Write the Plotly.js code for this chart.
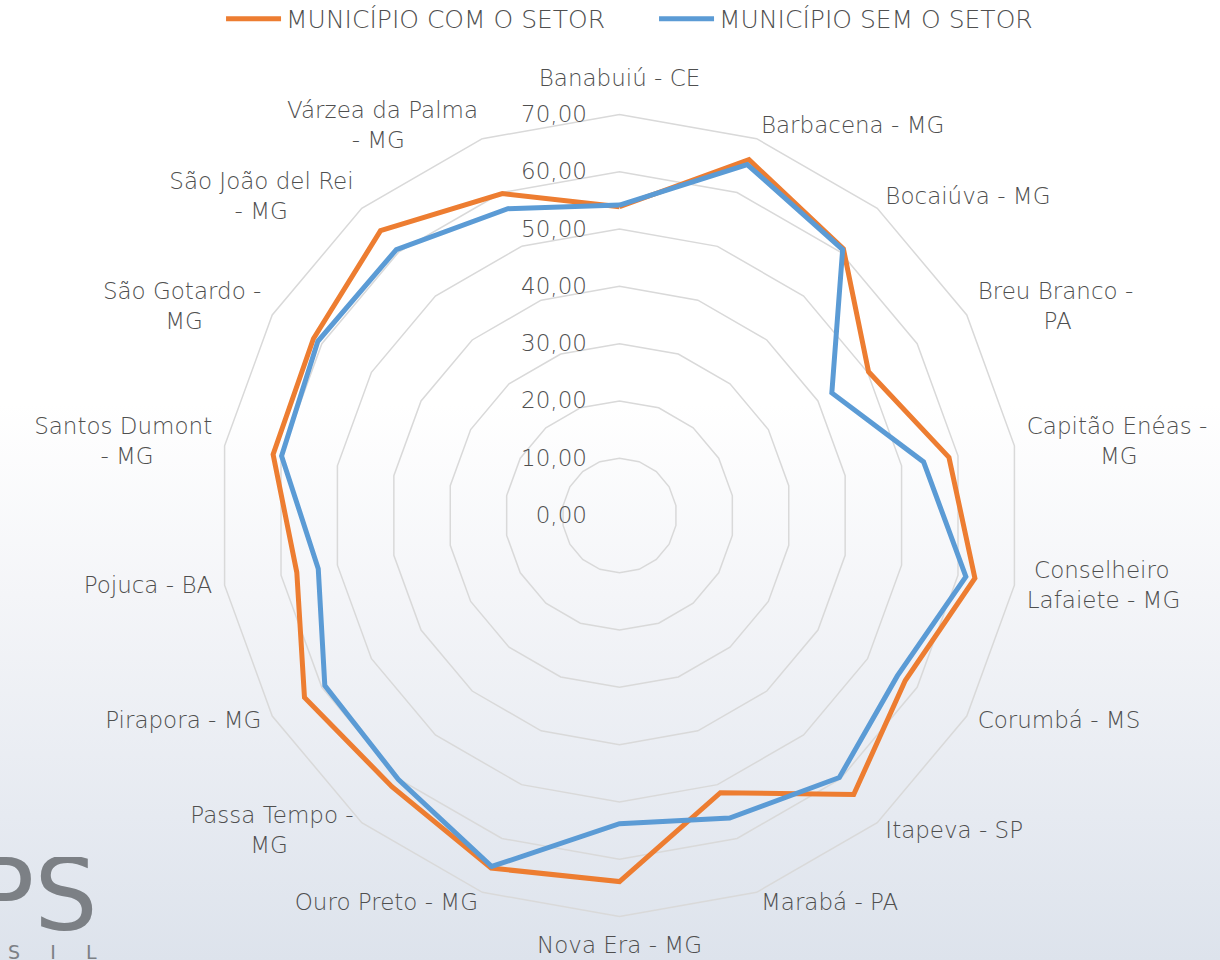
<!DOCTYPE html>
<html>
<head>
<meta charset="utf-8">
<script src="https://cdn.plot.ly/plotly-3.0.1.min.js"></script>
<style>
html, body { margin:0; padding:0; }
body { width:1220px; height:960px; background: linear-gradient(to bottom, #ffffff 0%, #ffffff 42%, #f4f5f8 62%, #e6eaf1 85%, #dde3ec 100%); overflow:hidden; }
#chart { width:1220px; height:960px; }
</style>
</head>
<body>
<div id="chart"></div>
<script>
var categories = ["Banabuiú - CE","Barbacena - MG","Bocaiúva - MG","Breu Branco - PA","Capitão Enéas - MG","Conselheiro Lafaiete - MG","Corumbá - MS","Itapeva - SP","Marabá - PA","Nova Era - MG","Ouro Preto - MG","Passa Tempo - MG","Pirapora - MG","Pojuca - BA","Santos Dumont - MG","São Gotardo - MG","São João del Rei - MG","Várzea da Palma - MG"];
var categoryLabels = ["Banabuiú - CE","Barbacena - MG","Bocaiúva - MG","Breu Branco -<br>{9}PA","Capitão Enéas -<br>{10}MG","{1}Conselheiro<br>Lafaiete - MG","Corumbá - MS","Itapeva - SP","Marabá - PA","Nova Era - MG","Ouro Preto - MG","Passa Tempo -<br>MG{9}","Pirapora - MG","Pojuca - BA","Santos Dumont<br>- MG{8}","São Gotardo -<br>MG{8}","São João del Rei<br>- MG{9}","Várzea da Palma<br>- MG{10}"];
var comSetor = [53.9, 66.1, 60.8, 50.2, 58.4, 63.0, 57.6, 63.6, 51.5, 63.9, 65.5, 61.8, 63.5, 57.2, 61.4, 61.7, 64.9, 59.8];
var semSetor = [54.2, 65.2, 60.6, 42.8, 53.9, 61.4, 56.0, 59.7, 56.2, 53.8, 65.2, 60.1, 59.4, 53.4, 59.9, 60.8, 60.6, 57.0];
var radialTicks = [0, 10, 20, 30, 40, 50, 60, 70];
var radialTickText = ["0,00","10,00","20,00","30,00","40,00","50,00","60,00","70,00"];
var seriesNames = ["MUNICÍPIO COM O SETOR", "MUNICÍPIO SEM O SETOR"];

// {n} -> n non-breaking spaces (to centre the two lines of a wrapped label)
function pad(s) { return s.replace(/\{(\d+)\}/g, function(m, n) { return new Array(+n + 1).join('\u00A0'); }); }
function closeLoop(a) { return a.concat([a[0]]); }

var FONT = '"DejaVu Sans", "Open Sans", sans-serif';
var TXT = '#4f4f4f';
var n = categories.length;
var rMax = 70, rOuter = 74; // outer ring = 70; a little room beyond it for the category labels
var labelPos = categories.map(function(c, i) {
  if (i === 0) return 'top center';
  if (i === n / 2) return 'bottom center';
  return i < n / 2 ? 'middle right' : 'middle left';
});
var labelRad = categories.map(function(c, i) {
  if (i === 0) return 73.9;
  if (i === n / 2) return 73.4;
  return 72.2;
});

var traces = [
  { type:'scatterpolar', mode:'lines', name: seriesNames[0], r: closeLoop(comSetor), theta: closeLoop(categories),
    line:{color:'#ED7D31', width:5}, hoverinfo:'skip' },
  { type:'scatterpolar', mode:'lines', name: seriesNames[1], r: closeLoop(semSetor), theta: closeLoop(categories),
    line:{color:'#5B9BD5', width:5}, hoverinfo:'skip' },
  { type:'scatterpolar', mode:'text', showlegend:false, hoverinfo:'skip', cliponaxis:false,
    r: labelRad, theta: categories,
    text: categoryLabels.map(pad), textposition: labelPos,
    textfont:{size:23, color:TXT, family:FONT, weight:200} }
];

var cx = 619.5, cyTop = 515.5, W = 1220, H = 960;
var R = 401 * rOuter / rMax; // 401 px = value 70
var layout = {
  width: W, height: H,
  margin:{l:0,r:0,t:0,b:0, autoexpand:false},
  paper_bgcolor:'rgba(0,0,0,0)',
  plot_bgcolor:'rgba(0,0,0,0)',
  separators: ',.',
  font:{family:FONT, color:TXT, size:23, weight:200},
  showlegend:true,
  legend:{orientation:'h', x:0.5361, xanchor:'center', y:1.0042, yanchor:'top', itemwidth:55, entrywidth:363,
    font:{size:25, color:TXT, family:FONT, weight:200}, bgcolor:'rgba(0,0,0,0)'},
  polar:{
    domain:{x:[(cx-R)/W, (cx+R)/W], y:[(H-cyTop-R)/H, (H-cyTop+R)/H]},
    bgcolor:'rgba(0,0,0,0)',
    gridshape:'linear',
    radialaxis:{range:[0, rOuter], tickmode:'array', tickvals: radialTicks, ticktext: radialTickText,
      angle:90, side:'counterclockwise', tickangle:90, showline:false,
      ticks:'outside', ticklen:24, tickcolor:'rgba(0,0,0,0)',
      gridcolor:'#d9d9d9', gridwidth:1.5, tickfont:{size:23, color:TXT, family:FONT, weight:200}},
    angularaxis:{direction:'clockwise', rotation:90, tickmode:'array', tickvals: categories, showticklabels:false,
      showgrid:false, showline:false, ticks:''}
  },
  annotations:[
    {xref:'paper', yref:'paper', x:100/W, y:1-895/H, xanchor:'right', yanchor:'middle', height:76, text:'PS', showarrow:false,
     font:{size:100, color:'#7c8085', family:FONT, weight:400}},
    {xref:'paper', yref:'paper', x:99/W, y:1-952/H, xanchor:'right', yanchor:'middle', text:'S\u00A0\u00A0\u00A0\u00A0\u00A0I\u00A0\u00A0\u00A0\u00A0\u00A0L', showarrow:false,
     font:{size:19, color:'#7c8085', family:FONT, weight:400}}
  ]
};

Plotly.newPlot('chart', traces, layout, {displayModeBar:false, staticPlot:true});
</script>
</body>
</html>
